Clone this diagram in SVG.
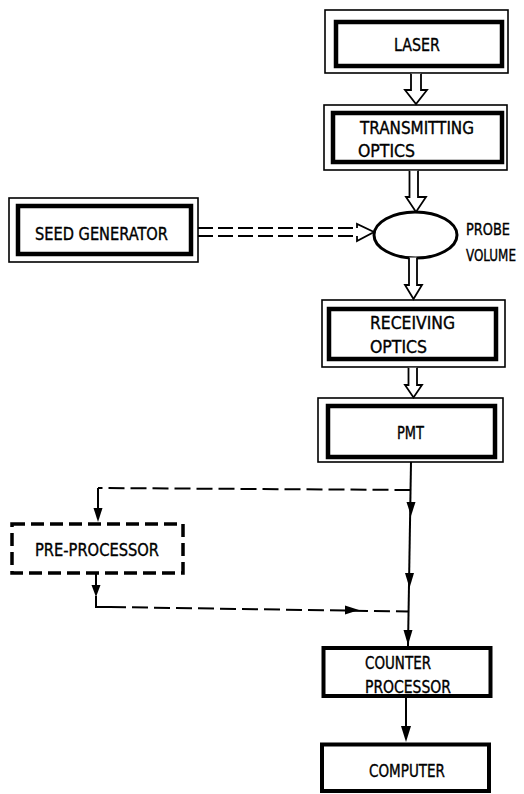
<svg xmlns="http://www.w3.org/2000/svg" width="524" height="794" viewBox="0 0 524 794">
<defs>
<style>
.bg{fill:#fff}
.outer{fill:none;stroke:#000;stroke-width:1.6}
.inner{fill:none;stroke:#000;stroke-width:4.5}
.box{fill:none;stroke:#000;stroke-width:4}
.dbox{fill:none;stroke:#000;stroke-width:3.5;stroke-dasharray:13 6}
.t{font-family:"DejaVu Sans Condensed","DejaVu Sans",sans-serif;font-size:17px;fill:#000;stroke:#000;stroke-width:0.35}
.ts{font-size:15.5px}
.hollow{fill:#fff;stroke:#000;stroke-width:1.8;stroke-linejoin:miter}
.line{fill:none;stroke:#000;stroke-width:2}
.dash{fill:none;stroke:#000;stroke-width:2;stroke-dasharray:16 6}
.dash2{fill:none;stroke:#000;stroke-width:1.8;stroke-dasharray:15 5}
.head{fill:#000;stroke:none}
</style>
</defs>
<rect class="bg" width="524" height="794"/>

<g id="laser">
<rect class="outer" x="325" y="10" width="183" height="63"/>
<rect class="inner" x="336" y="22" width="166" height="44"/>
<text class="t" x="394" y="51" textLength="46" lengthAdjust="spacingAndGlyphs">LASER</text>
</g>

<g id="transmitting-optics">
<rect class="outer" x="324" y="105" width="183" height="65"/>
<rect class="inner" x="333" y="113" width="169" height="49"/>
<text class="t" x="360" y="134" textLength="114" lengthAdjust="spacingAndGlyphs">TRANSMITTING</text>
<text class="t" x="358" y="157" textLength="57" lengthAdjust="spacingAndGlyphs">OPTICS</text>
</g>

<g id="seed-generator">
<rect class="outer" x="9" y="198" width="189" height="64"/>
<rect class="inner" x="18" y="206" width="173" height="48"/>
<text class="t" x="35" y="240" textLength="133" lengthAdjust="spacingAndGlyphs">SEED GENERATOR</text>
</g>

<g id="probe-volume">
<ellipse cx="415.5" cy="235" rx="41.5" ry="23" fill="none" stroke="#000" stroke-width="3"/>
<text class="t ts" x="466" y="235" textLength="44" lengthAdjust="spacingAndGlyphs">PROBE</text>
<text class="t ts" x="466" y="261" textLength="50" lengthAdjust="spacingAndGlyphs">VOLUME</text>
</g>

<g id="receiving-optics">
<rect class="outer" x="322" y="300" width="183" height="67"/>
<rect class="inner" x="329" y="309" width="167" height="50"/>
<text class="t" x="370" y="329" textLength="85" lengthAdjust="spacingAndGlyphs">RECEIVING</text>
<text class="t" x="370" y="353" textLength="57" lengthAdjust="spacingAndGlyphs">OPTICS</text>
</g>

<g id="pmt">
<rect class="outer" x="318" y="398" width="185" height="64"/>
<rect class="inner" x="328" y="406" width="167" height="51"/>
<text class="t" x="397" y="439" textLength="27" lengthAdjust="spacingAndGlyphs">PMT</text>
</g>

<g id="pre-processor">
<rect class="dbox" x="12" y="524" width="171" height="49"/>
<text class="t" x="35" y="556" textLength="124" lengthAdjust="spacingAndGlyphs">PRE-PROCESSOR</text>
</g>

<g id="counter-processor">
<rect class="box" x="323.5" y="648" width="167" height="48"/>
<text class="t" x="365" y="669" textLength="66" lengthAdjust="spacingAndGlyphs">COUNTER</text>
<text class="t" x="365" y="693" textLength="86" lengthAdjust="spacingAndGlyphs">PROCESSOR</text>
</g>

<g id="computer">
<rect class="box" x="322" y="744.5" width="167" height="46.5"/>
<text class="t" x="369" y="777" textLength="76" lengthAdjust="spacingAndGlyphs">COMPUTER</text>
</g>

<g id="connectors">
<path class="hollow" d="M411 73.8 L411 90 L405 90 L416 104 L427 90 L421 90 L421 73.8"/>
<path class="hollow" d="M409.5 170.8 L409.5 197 L406 197 L416 212 L426 197 L418 197 L418 170.8"/>
<path class="hollow" d="M409 257.5 L409 285 L405 285 L413.5 299 L422 285 L417 285 L417 257.5"/>
<path class="hollow" d="M408.5 367.8 L408.5 385 L405 385 L413.5 397.5 L422 385 L417 385 L417 367.8"/>
<line class="dash2" x1="198" y1="228" x2="357" y2="228"/>
<line class="dash2" x1="198" y1="236" x2="357" y2="236"/>
<path class="hollow" fill="none" d="M357 228 L357 224 L374 232 L357 241 L357 236"/>
<path class="line" d="M411 462 L408 646"/>
<path class="head" d="M406.5 502 L415.5 502 L411 516 Z"/>
<path class="head" d="M405 573 L414 573 L409.5 588 Z"/>
<path class="head" d="M403.5 630 L412.5 630 L408 645 Z"/>
<path class="dash" d="M410.5 490 L98 488"/>
<path class="line" d="M98 488 L98 510"/>
<path class="head" d="M93.5 508 L102.5 508 L98 522 Z"/>
<path class="line" d="M96 573 L96 588"/>
<path class="head" d="M91.5 585 L100.5 585 L96 597 Z"/>
<path class="line" d="M96 596 L96 607 L110 607"/>
<path class="dash" d="M110 607 L408 611.5"/>
<path class="head" d="M345 605.5 L359 610 L345 614.5 Z"/>
<path class="line" d="M406 698 L406 730"/>
<path class="head" d="M401 726 L411 726 L406 742 Z"/>
</g>
</svg>
